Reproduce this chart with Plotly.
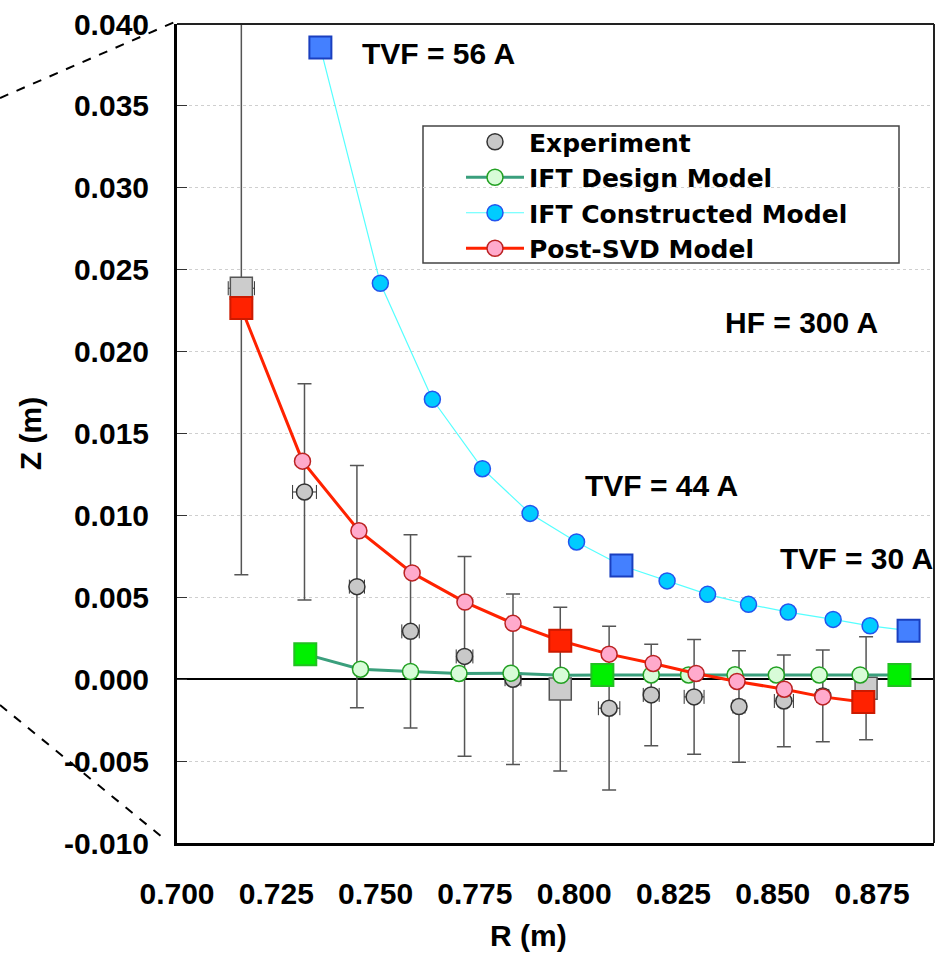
import plotly.graph_objects as go

# ---------------- data ----------------
# Experiment (circles with error bars)
exp_r = [0.7321, 0.7453, 0.7588, 0.7724, 0.7846, 0.8088, 0.8194, 0.8302, 0.8415, 0.8528, 0.8626]
exp_z = [0.01143, 0.00565, 0.00292, 0.00139, 0.0000, -0.00177, -0.00096, -0.00108, -0.00167, -0.00133, -0.00102]
exp_zerr = [0.0066, 0.0074, 0.0059, 0.0061, 0.0052, 0.0050, 0.0031, 0.0035, 0.0034, 0.0028, 0.0028]
exp_rerr = [0.0030, 0.0019, 0.0022, 0.0021, 0.0020, 0.0027, 0.0020, 0.0025, 0.0015, 0.0024, 0.0015]

# Experiment (large squares)
exp_sq_r = [0.7162, 0.7965, 0.8735]
exp_sq_z = [0.02387, -0.00060, -0.00055]
exp_sq_zerr_up = [0.0168, 0.0050, 0.00314]
exp_sq_zerr_dn = [0.0175, 0.0050, 0.00314]
exp_sq_rerr = [0.0033, 0.0020, 0.0026]

# IFT Design Model
des_r = [0.7323, 0.7462, 0.7588, 0.7710, 0.7841, 0.7967, 0.8071, 0.8194, 0.8288, 0.8405, 0.8509, 0.8617, 0.8720, 0.8819]
des_z = [0.00153, 0.00061, 0.00047, 0.00035, 0.00037, 0.00024, 0.00026, 0.00026, 0.00026, 0.00027, 0.00026, 0.00026, 0.00026, 0.00026]

# IFT Constructed Model
con_r = [0.7361, 0.7512, 0.7643, 0.7769, 0.7889, 0.8006, 0.8119, 0.8234, 0.8336, 0.8439, 0.8539, 0.8652, 0.8745, 0.8842]
con_z = [0.03856, 0.02417, 0.01709, 0.01285, 0.01012, 0.00838, 0.00694, 0.00600, 0.00518, 0.00457, 0.00410, 0.00365, 0.00326, 0.00296]

# Post-SVD Model
svd_r = [0.7162, 0.7316, 0.7458, 0.7592, 0.7725, 0.7846, 0.7965, 0.8088, 0.8199, 0.8307, 0.8410, 0.8529, 0.8626, 0.8728]
svd_z = [0.02266, 0.01331, 0.00906, 0.00649, 0.00471, 0.00341, 0.00235, 0.00153, 0.00096, 0.00035, -0.00014, -0.00061, -0.00108, -0.00139]

# indices of the points drawn as large squares (TVF = 56, 44, 30 A)
square_idx = [0, 6, 13]

x_ticks = [0.700, 0.725, 0.750, 0.775, 0.800, 0.825, 0.850, 0.875]
y_ticks = [-0.010, -0.005, 0.000, 0.005, 0.010, 0.015, 0.020, 0.025, 0.030, 0.035, 0.040]
x_range = [0.700, 0.8906]
y_range = [-0.010, 0.040]

labels = [
    ("TVF = 56 A", 0.7461, 0.03817),
    ("HF = 300 A", 0.8375, 0.02178),
    ("TVF = 44 A", 0.8023, 0.01180),
    ("TVF = 30 A", 0.8513, 0.00734),
]

FONT = "Liberation Sans"
fig = go.Figure()

# ---------------- Experiment ----------------
# capless upper part of the first square's error bar (runs past the top of the frame)
fig.add_trace(go.Scatter(
    x=exp_sq_r[:1], y=exp_sq_z[:1], mode="markers",
    marker=dict(size=1, opacity=0), showlegend=False, hoverinfo="skip",
    cliponaxis=False,
    error_y=dict(type="data", symmetric=False, array=exp_sq_zerr_up[:1], arrayminus=[0],
                 color="#555555", thickness=1.5, width=0),
))
fig.add_trace(go.Scatter(
    x=exp_sq_r, y=exp_sq_z, mode="markers", showlegend=False,
    marker=dict(symbol="square", size=22, color="#cccccc", line=dict(color="#555555", width=1.5)),
    error_y=dict(type="data", symmetric=False, array=[0] + exp_sq_zerr_up[1:], arrayminus=exp_sq_zerr_dn,
                 color="#555555", thickness=1.5, width=7),
    error_x=dict(type="data", array=exp_sq_rerr, color="#333333", thickness=1, width=7),
))
fig.add_trace(go.Scatter(
    x=exp_r, y=exp_z, mode="markers", name="Experiment",
    marker=dict(symbol="circle", size=16, color="#c8c8c8", line=dict(color="#333333", width=1.5)),
    error_y=dict(type="data", array=exp_zerr, color="#555555", thickness=1.5, width=7),
    error_x=dict(type="data", array=exp_rerr, color="#333333", thickness=1, width=7),
))

# ---------------- models ----------------
models = [
    ("IFT Design Model", des_r, des_z, dict(color="#3a9f7c", width=3),
     dict(color="#d8fcd8", line=dict(color="#22a022", width=1.5)),
     dict(color="#00f000", line=dict(color="#22c022", width=2))),
    ("IFT Constructed Model", con_r, con_z, dict(color="#55ffff", width=1.2),
     dict(color="#00ccff", line=dict(color="#2255ee", width=1.5)),
     dict(color="#4480ff", line=dict(color="#1a3fbf", width=2))),
    ("Post-SVD Model", svd_r, svd_z, dict(color="#ff2200", width=3),
     dict(color="#ffaacc", line=dict(color="#bb2222", width=1.5)),
     dict(color="#ff2200", line=dict(color="#cc1a00", width=2))),
]
for name, rr, zz, line, circ, sq in models:
    fig.add_trace(go.Scatter(
        x=rr, y=zz, mode="lines+markers", name=name, line=line,
        marker=dict(symbol="circle", size=16, **circ),
    ))
    fig.add_trace(go.Scatter(
        x=[rr[i] for i in square_idx], y=[zz[i] for i in square_idx],
        mode="markers", showlegend=False,
        marker=dict(symbol="square", size=22, **sq),
    ))

# ---------------- layout ----------------
L, R, T, B = 177, 7, 24, 110
W, H = 941, 953
pw, ph = W - L - R, H - T - B


def px(xp):
    return (xp - L) / pw


def py(yp):
    return (H - B - yp) / ph


tick_font = dict(family=FONT, size=30, color="black", weight="bold")

annotations = []
for txt, xv, yv in labels:
    annotations.append(dict(x=xv, y=yv, xref="x", yref="y", text=txt, showarrow=False,
                            xanchor="left", yanchor="middle", font=tick_font))
annotations.append(dict(x=px(528), y=py(935), xref="paper", yref="paper", text="R (m)",
                        showarrow=False, xanchor="center", yanchor="middle", font=tick_font))

shapes = [
    # top and right frame lines
    dict(type="line", xref="paper", yref="paper", x0=0, x1=1, y0=1, y1=1,
         line=dict(color="#222222", width=2)),
    dict(type="line", xref="paper", yref="paper", x0=1, x1=1, y0=0, y1=1,
         line=dict(color="#222222", width=2)),
    # dashed guide lines outside the frame
    dict(type="line", xref="paper", yref="paper", x0=px(0), y0=py(98), x1=px(177), y1=py(21),
         line=dict(color="black", width=2, dash="dash")),
    dict(type="line", xref="paper", yref="paper", x0=px(0), y0=py(705), x1=px(162), y1=py(837),
         line=dict(color="black", width=2, dash="dash")),
    # legend box
    dict(type="rect", xref="paper", yref="paper", x0=px(423), x1=px(899), y0=py(263), y1=py(126),
         line=dict(color="#444444", width=1.5), fillcolor="white", layer="between"),
]

fig.update_layout(
    width=W, height=H,
    margin=dict(l=L, r=R, t=T, b=B),
    paper_bgcolor="white", plot_bgcolor="white",
    showlegend=True,
    legend=dict(x=px(461), y=py(119), xanchor="left", yanchor="top",
                bgcolor="rgba(0,0,0,0)", borderwidth=0, itemwidth=58,
                font=dict(family="DejaVu Sans", size=25, color="black", weight="bold"),
                tracegroupgap=0),
    xaxis=dict(range=x_range, tickvals=x_ticks, tickformat=".3f", ticks="",
               showline=True, linecolor="black", linewidth=3, showgrid=False, zeroline=False,
               tickfont=tick_font, ticklabelstandoff=22),
    xaxis2=dict(range=x_range, overlaying="x", side="top", anchor="free", position=py(679.2),
                tickvals=x_ticks, ticks="outside", ticklen=10, tickwidth=1.5, tickcolor="#333333",
                showticklabels=False, showline=False, showgrid=False, zeroline=False),
    yaxis=dict(range=y_range, tickvals=y_ticks, ticktext=[f"{v:.3f}" for v in y_ticks],
               ticks="inside", ticklen=10, tickwidth=1.3, tickcolor="#333333",
               showline=True, linecolor="black", linewidth=3,
               showgrid=True, gridcolor="#cfcfcf", griddash="dot", gridwidth=1,
               zeroline=True, zerolinecolor="black", zerolinewidth=1.5,
               tickfont=tick_font, ticklabelstandoff=19,
               title=dict(text="Z (m)", font=tick_font, standoff=14)),
    annotations=annotations,
    shapes=shapes,
)

fig.write_html("out.html")
